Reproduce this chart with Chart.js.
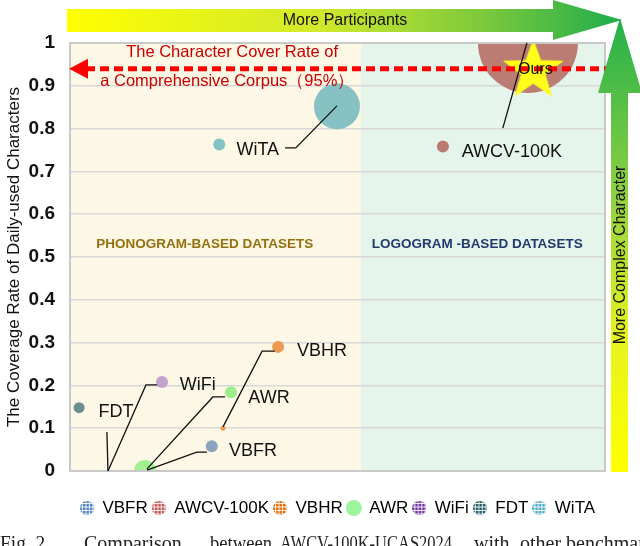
<!DOCTYPE html>
<html>
<head>
<meta charset="utf-8">
<script src="https://cdn.jsdelivr.net/npm/chart.js@4.4.1/dist/chart.umd.min.js"></script>
<style>
  html, body { margin: 0; padding: 0; background: #fff; }
  #wrap { width: 640px; height: 546px; position: relative; }
</style>
</head>
<body>
<div id="wrap"><canvas id="chart"></canvas></div>
<script>
// datasets in legend order
const names = ["VBFR", "AWCV-100K", "VBHR", "AWR", "WiFi", "FDT", "WiTA"];
// small markers (x = "participants" position 0..1, y = coverage rate)
const dotX = [0.265, 0.697, 0.389, 0.301, 0.172, 0.017, 0.279];
const dotY = [0.058, 0.758, 0.290, 0.184, 0.208, 0.148, 0.763];
const dotR = [6, 6, 6, 6, 6, 5.5, 6];
// second (sized) bubble of a series, null if none
const bubX = [null, 0.856, 0.286, 0.140, null, null, 0.499];
const bubY = [null, 1.000, 0.100, 0.000, null, null, 0.852];
const bubR = [0, 50, 2.5, 11, 0, 0, 23];
// ours
const oursX = 0.866;
const oursY = 0.94;
// corpus cover rate line (labelled 95%)
const corpusRate = 0.94;
const yMin = 0, yMax = 1, yStep = 0.1;
const splitX = 0.544;   // phonogram | logogram

const dotColors = ["#8ba4be", "#b97b72", "#eb9a4f", "#9bee8a", "#c3a3cc", "#6a8f8c", "#84c2c4"];
const bubColors = [null, "#bb7d73", "#eb9a4f", "#a2f092", null, null, "#86c2c3"];
const legendColors = ["#4f81bd", "#c0504d", "#e46c0a", "#9cf59c", "#7030a0", "#215968", "#4bacc6"];

const FONT = '"Liberation Sans", Arial, sans-serif';

// label callouts, in data units
const callouts = [
  { text: "FDT", at: [0.086, 0.138], line: [[0.069, 0.091], [0.071, 0.0]] },
  { text: "WiFi", at: [0.239, 0.201], line: [[0.071, 0.0], [0.142, 0.201], [0.163, 0.201]] },
  { text: "AWR", at: [0.372, 0.171], line: [[0.144, 0.005], [0.267, 0.173], [0.290, 0.173]] },
  { text: "VBFR", at: [0.342, 0.047], line: [[0.144, 0.002], [0.237, 0.044], [0.256, 0.044]] },
  { text: "VBHR", at: [0.471, 0.280], line: [[0.286, 0.103], [0.359, 0.280], [0.383, 0.280]] },
  { text: "WiTA", at: [0.351, 0.750], line: [[0.499, 0.853], [0.422, 0.755], [0.402, 0.755]] },
  { text: "AWCV-100K", at: [0.826, 0.745], line: [[0.854, 1.0], [0.809, 0.801]] }
];

function hatch(color, size, solid) {
  const c = document.createElement("canvas");
  c.width = c.height = size;
  const g = c.getContext("2d");
  g.beginPath();
  g.arc(size / 2, size / 2, size / 2, 0, Math.PI * 2);
  g.clip();
  g.fillStyle = color;
  g.fillRect(0, 0, size, size);
  if (!solid) {
    g.strokeStyle = "rgba(255,255,255,0.9)";
    g.lineWidth = 1;
    for (let p = 2.5; p < size; p += 3.5) {
      g.beginPath();
      g.moveTo(p, 0); g.lineTo(p, size);
      g.moveTo(0, p); g.lineTo(size, p);
      g.stroke();
    }
  }
  return c;
}

function starImg(R, r, color) {
  const c = document.createElement("canvas");
  c.width = c.height = Math.ceil(R * 2 + 2);
  const g = c.getContext("2d");
  const cx = c.width / 2, cy = c.height / 2 + 2;
  g.beginPath();
  for (let i = 0; i < 10; i++) {
    const a = -Math.PI / 2 + i * Math.PI / 5;
    const rr = i % 2 ? r : R;
    g.lineTo(cx + rr * Math.cos(a), cy + rr * Math.sin(a));
  }
  g.closePath();
  g.fillStyle = color;
  g.fill();
  return c;
}

const legendIcons = legendColors.map((c, i) => names[i] === "AWR" ? hatch(c, 16, true) : hatch(c, 14, false));

const datasets = [{
  label: "Ours",
  data: [{ x: oursX, y: oursY, r: 30 }],
  pointStyle: starImg(32, 13, "#ffff1a"),
  backgroundColor: "#ffff1a",
  borderWidth: 0,
  clip: 0
}];
names.forEach((n, i) => {
  const pts = [{ x: dotX[i], y: dotY[i], r: dotR[i] }];
  const cols = [dotColors[i]];
  if (bubX[i] !== null) {
    pts.unshift({ x: bubX[i], y: bubY[i], r: bubR[i] });
    cols.unshift(bubColors[i]);
  }
  datasets.push({ label: n, data: pts, backgroundColor: cols, borderWidth: 0, clip: 0 });
});

const decor = {
  id: "decor",
  beforeDraw(chart) {
    const { ctx, chartArea: a, scales: { x } } = chart;
    ctx.save();
    ctx.fillStyle = "#fff";
    ctx.fillRect(0, 0, chart.width, chart.height);
    const sx = x.getPixelForValue(splitX);
    ctx.fillStyle = "#fdf7e6";
    ctx.fillRect(a.left, a.top, sx - a.left, a.bottom - a.top);
    ctx.fillStyle = "#e5f5ec";
    ctx.fillRect(sx, a.top, a.right - sx, a.bottom - a.top);
    ctx.restore();
  },
  afterDatasetsDraw(chart) {
    const { ctx, chartArea: a, scales: { x, y } } = chart;
    const px = v => x.getPixelForValue(v), py = v => y.getPixelForValue(v);
    ctx.save();
    // frame
    ctx.strokeStyle = "#c9c9c9";
    ctx.lineWidth = 2;
    ctx.strokeRect(a.left, a.top, a.right - a.left, a.bottom - a.top);

    // category labels
    ctx.font = "bold 13.5px " + FONT;
    ctx.textAlign = "center";
    ctx.textBaseline = "middle";
    ctx.fillStyle = "#94700f";
    ctx.fillText("PHONOGRAM-BASED DATASETS", px(0.252), py(0.53));
    ctx.fillStyle = "#1f3a6e";
    ctx.fillText("LOGOGRAM -BASED DATASETS", px(0.761), py(0.53));

    // corpus rate dashed arrow
    const ly = py(corpusRate);
    ctx.strokeStyle = "#ff0000";
    ctx.lineWidth = 5;
    ctx.setLineDash([9, 5]);
    ctx.beginPath();
    ctx.moveTo(a.left + 16, ly);
    ctx.lineTo(a.right + 4, ly);
    ctx.stroke();
    ctx.setLineDash([]);
    ctx.fillStyle = "#ff0000";
    ctx.beginPath();
    ctx.moveTo(a.left - 1, ly);
    ctx.lineTo(a.left + 18, ly - 10);
    ctx.lineTo(a.left + 18, ly + 10);
    ctx.closePath();
    ctx.fill();
    ctx.fillStyle = "#c80000";
    ctx.font = "16.5px " + FONT;
    ctx.fillText("The Character Cover Rate of", px(0.303), py(0.977));
    ctx.fillText("a Comprehensive Corpus（95%）", px(0.294), py(0.909));

    // callouts
    ctx.strokeStyle = "#111";
    ctx.lineWidth = 1.3;
    ctx.font = "18px " + FONT;
    ctx.fillStyle = "#111";
    callouts.forEach(c => {
      ctx.beginPath();
      c.line.forEach((p, i) => i ? ctx.lineTo(px(p[0]), py(p[1])) : ctx.moveTo(px(p[0]), py(p[1])));
      ctx.stroke();
      ctx.fillText(c.text, px(c.at[0]), py(c.at[1]));
    });
    ctx.font = "16px " + FONT;
    ctx.fillText("Ours", px(oursX) + 2, py(oursY) + 1);
    ctx.restore();
  },
  afterDraw(chart) {
    const { ctx, chartArea: a } = chart;
    ctx.save();
    // horizontal arrow
    let g = ctx.createLinearGradient(a.left - 3, 0, 622, 0);
    g.addColorStop(0, "#ffff00");
    g.addColorStop(0.45, "#d2e92c");
    g.addColorStop(0.75, "#7cc93c");
    g.addColorStop(1, "#1fad4c");
    ctx.fillStyle = g;
    ctx.beginPath();
    ctx.moveTo(a.left - 3, 9);
    ctx.lineTo(553, 9);
    ctx.lineTo(553, 0);
    ctx.lineTo(622, 20);
    ctx.lineTo(553, 40);
    ctx.lineTo(553, 32);
    ctx.lineTo(a.left - 3, 32);
    ctx.closePath();
    ctx.fill();
    // vertical arrow
    g = ctx.createLinearGradient(0, a.bottom + 1, 0, 18);
    g.addColorStop(0, "#ffff00");
    g.addColorStop(0.3, "#e6f41e");
    g.addColorStop(0.6, "#92d141");
    g.addColorStop(1, "#22b04a");
    ctx.fillStyle = g;
    ctx.beginPath();
    ctx.moveTo(611, a.bottom + 1);
    ctx.lineTo(611, 93);
    ctx.lineTo(598, 93);
    ctx.lineTo(620, 18);
    ctx.lineTo(642, 93);
    ctx.lineTo(628, 93);
    ctx.lineTo(628, a.bottom + 1);
    ctx.closePath();
    ctx.fill();

    ctx.fillStyle = "#111";
    ctx.font = "16px " + FONT;
    ctx.textAlign = "center";
    ctx.textBaseline = "middle";
    ctx.fillText("More Participants", 345, 21);
    ctx.translate(621, 255);
    ctx.rotate(-Math.PI / 2);
    ctx.fillText("More Complex Character", 0, 0);
    ctx.restore();

    // caption (cut by the bottom edge)
    ctx.save();
    ctx.fillStyle = "#222";
    ctx.font = '20px "Liberation Serif", serif';
    ctx.textBaseline = "alphabetic";
    [["Fig. 2.", 0, 50], ["Comparison", 84, 98], ["between", 210, 62], ["AWCV-100K-UCAS2024", 280, 172],
     ["with", 474, 36], ["other", 520, 42], ["benchmark", 566, 90]]
      .forEach(w => ctx.fillText(w[0], w[1], 550, w[2]));
    ctx.restore();
  }
};

new Chart(document.getElementById("chart"), {
  type: "bubble",
  data: { datasets },
  options: {
    responsive: true,
    maintainAspectRatio: false,
    animation: false,
    layout: { autoPadding: false, padding: { top: 43, right: 35, bottom: 19.5, left: 0 } },
    scales: {
      x: {
        type: "linear", min: 0, max: 1,
        ticks: { display: false },
        grid: { display: false },
        border: { display: false },
        afterFit: s => { s.height = 24.5; }
      },
      y: {
        min: yMin, max: yMax,
        ticks: {
          stepSize: yStep, padding: 15, color: "#111",
          font: { size: 19, weight: "bold", family: FONT },
          callback: v => String(Number(v.toFixed(1)))
        },
        grid: { color: "#d8d8d8", lineWidth: 1.5, drawTicks: false },
        border: { display: false },
        title: {
          display: true,
          text: "The Coverage Rate of Daily-used Characters",
          color: "#111",
          font: { size: 17, family: FONT },
          padding: { top: 4, bottom: 0 }
        },
        afterFit: s => { s.width = 70; }
      }
    },
    plugins: {
      tooltip: { enabled: false },
      legend: {
        position: "bottom",
        fullSize: false,
        labels: {
          usePointStyle: true,
          boxWidth: 14,
          boxHeight: 14,
          padding: 4,
          color: "#000",
          font: { size: 17, family: FONT },
          generateLabels(chart) {
            return Chart.defaults.plugins.legend.labels.generateLabels(chart)
              .filter(it => it.datasetIndex > 0)
              .map(it => Object.assign(it, { pointStyle: legendIcons[it.datasetIndex - 1] }));
          }
        }
      }
    }
  },
  plugins: [decor]
});
</script>
</body>
</html>
